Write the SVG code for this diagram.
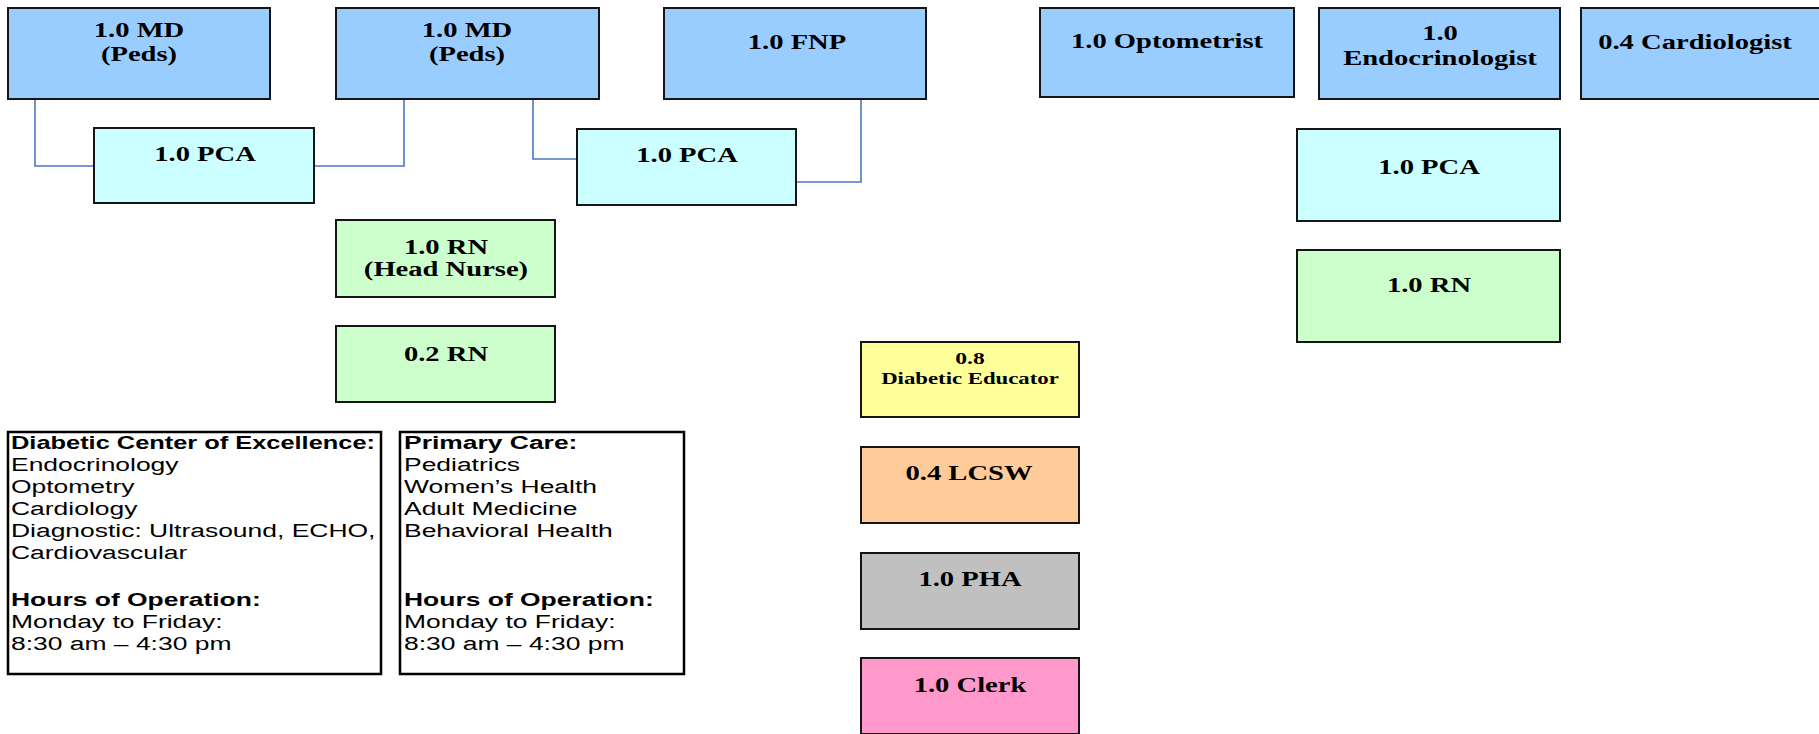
<svg xmlns="http://www.w3.org/2000/svg" width="1819" height="734" viewBox="0 0 1819 734">
<style>
.box{stroke:#151515;stroke-width:2}
.md{fill:#99CCFF}
.pca{fill:#CCFFFF}
.rn{fill:#CCFFCC}
.edu{fill:#FFFF99}
.lcsw{fill:#FFCC99}
.pha{fill:#C0C0C0}
.clerk{fill:#FF99CC}
.lbl{font-family:"Liberation Serif","Times New Roman",serif;font-weight:bold;font-size:20px;fill:#000;text-anchor:middle}
.sm{font-size:16.5px}
.info{fill:#fff;stroke:#000;stroke-width:2.5}
.tx{font-family:"Liberation Sans",Arial,sans-serif;font-size:18px;fill:#000}
.b{font-weight:bold}
.conn{fill:none;stroke:#4A76C4;stroke-width:1.6}
</style>
<rect width="1819" height="734" fill="#fff"/>
<g id="connectors">
<path class="conn" d="M35 99 V166 H94"/>
<path class="conn" d="M314 166 H404 V99"/>
<path class="conn" d="M533 99 V159 H577"/>
<path class="conn" d="M796 182 H861 V99"/>
</g>
<g id="md1"><rect class="box md" x="8" y="8" width="262" height="91"/>
<text class="lbl" transform="translate(139 37) scale(1.43 1)">1.0 MD</text>
<text class="lbl" transform="translate(139 61) scale(1.43 1)">(Peds)</text></g>
<g id="md2"><rect class="box md" x="336" y="8" width="263" height="91"/>
<text class="lbl" transform="translate(467 37) scale(1.43 1)">1.0 MD</text>
<text class="lbl" transform="translate(467 61) scale(1.43 1)">(Peds)</text></g>
<g id="fnp"><rect class="box md" x="664" y="8" width="262" height="91"/>
<text class="lbl" transform="translate(797 49) scale(1.43 1)">1.0 FNP</text></g>
<g id="optometrist"><rect class="box md" x="1040" y="8" width="254" height="89"/>
<text class="lbl" transform="translate(1167 48) scale(1.43 1)">1.0 Optometrist</text></g>
<g id="endocrinologist"><rect class="box md" x="1319" y="8" width="241" height="91"/>
<text class="lbl" transform="translate(1440 40) scale(1.43 1)">1.0</text>
<text class="lbl" transform="translate(1440 65) scale(1.43 1)">Endocrinologist</text></g>
<g id="cardiologist"><rect class="box md" x="1581" y="8" width="245" height="91"/>
<text class="lbl" transform="translate(1695 49) scale(1.43 1)">0.4 Cardiologist</text></g>
<g id="pca1"><rect class="box pca" x="94" y="128" width="220" height="75"/>
<text class="lbl" transform="translate(205 161) scale(1.43 1)">1.0 PCA</text></g>
<g id="pca2"><rect class="box pca" x="577" y="129" width="219" height="76"/>
<text class="lbl" transform="translate(687 162) scale(1.43 1)">1.0 PCA</text></g>
<g id="pca3"><rect class="box pca" x="1297" y="129" width="263" height="92"/>
<text class="lbl" transform="translate(1429 174) scale(1.43 1)">1.0 PCA</text></g>
<g id="rn-right"><rect class="box rn" x="1297" y="250" width="263" height="92"/>
<text class="lbl" transform="translate(1429 292) scale(1.43 1)">1.0 RN</text></g>
<g id="rn-head"><rect class="box rn" x="336" y="220" width="219" height="77"/>
<text class="lbl" transform="translate(446 254) scale(1.43 1)">1.0 RN</text>
<text class="lbl" transform="translate(446 276) scale(1.43 1)">(Head Nurse)</text></g>
<g id="rn-02"><rect class="box rn" x="336" y="326" width="219" height="76"/>
<text class="lbl" transform="translate(446 361) scale(1.43 1)">0.2 RN</text></g>
<g id="educator"><rect class="box edu" x="861" y="342" width="218" height="75"/>
<text class="lbl sm" transform="translate(970 364) scale(1.43 1)">0.8</text>
<text class="lbl sm" transform="translate(970 384) scale(1.38 1)">Diabetic Educator</text></g>
<g id="lcsw"><rect class="box lcsw" x="861" y="447" width="218" height="76"/>
<text class="lbl" transform="translate(969 480) scale(1.43 1)">0.4 LCSW</text></g>
<g id="pha"><rect class="box pha" x="861" y="553" width="218" height="76"/>
<text class="lbl" transform="translate(970 586) scale(1.43 1)">1.0 PHA</text></g>
<g id="clerk"><rect class="box clerk" x="861" y="658" width="218" height="76"/>
<text class="lbl" transform="translate(970 692) scale(1.43 1)">1.0 Clerk</text></g>
<g id="dce-info"><rect class="info" x="8" y="432" width="373" height="242"/>
<g transform="translate(11 0) scale(1.47 1)">
<text class="tx b" x="0" y="449" transform="scale(0.96 1)">Diabetic Center of Excellence:</text>
<text class="tx" x="0" y="471">Endocrinology</text>
<text class="tx" x="0" y="493">Optometry</text>
<text class="tx" x="0" y="515">Cardiology</text>
<text class="tx" x="0" y="537">Diagnostic: Ultrasound, ECHO,</text>
<text class="tx" x="0" y="559">Cardiovascular</text>
<text class="tx b" x="0" y="606">Hours of Operation:</text>
<text class="tx" x="0" y="628">Monday to Friday:</text>
<text class="tx" x="0" y="650">8:30 am – 4:30 pm</text>
</g></g>
<g id="primary-info"><rect class="info" x="400" y="432" width="284" height="242"/>
<g transform="translate(404 0) scale(1.47 1)">
<text class="tx b" x="0" y="449">Primary Care:</text>
<text class="tx" x="0" y="471">Pediatrics</text>
<text class="tx" x="0" y="493">Women’s Health</text>
<text class="tx" x="0" y="515">Adult Medicine</text>
<text class="tx" x="0" y="537">Behavioral Health</text>
<text class="tx b" x="0" y="606">Hours of Operation:</text>
<text class="tx" x="0" y="628">Monday to Friday:</text>
<text class="tx" x="0" y="650">8:30 am – 4:30 pm</text>
</g></g>
</svg>
